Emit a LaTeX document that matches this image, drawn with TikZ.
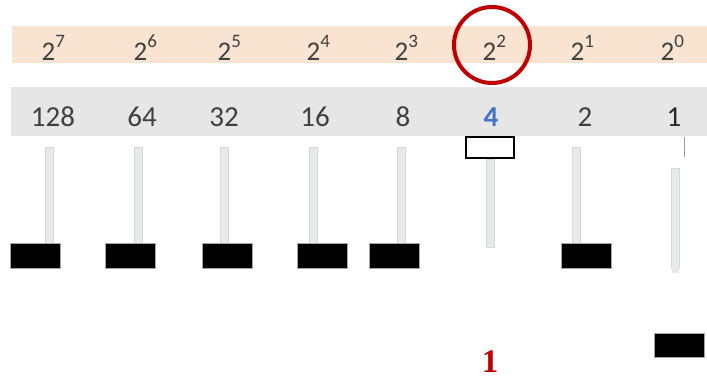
\documentclass[tikz,border=0pt]{standalone}
\usepackage{fontspec}
\setmainfont{Carlito}
\newfontfamily\redserif{Liberation Serif}
\definecolor{peach}{HTML}{F8E4D0}
\definecolor{bandgray}{HTML}{E6E6E6}
\definecolor{txtgray}{HTML}{404040}
\definecolor{bluefour}{HTML}{4472C4}
\definecolor{darkred}{HTML}{C00000}
\definecolor{rodfill}{HTML}{E8EAEA}
\definecolor{roddraw}{HTML}{D6D8D8}
\tikzset{
  powtext/.style={anchor=base west, inner sep=0pt, text=txtgray, font=\fontsize{27}{27}\selectfont},
  numtext/.style={anchor=base, inner sep=0pt, text=txtgray, font=\fontsize{29}{29}\selectfont},
  rod/.style={fill=rodfill, draw=roddraw, line width=0.8pt},
  bead/.style={fill=black, draw=gray!70, line width=0.8pt},
}
\newcommand{\powlbl}[1]{2\raisebox{13pt}{\fontsize{19}{19}\selectfont #1}}
\begin{document}
\begin{tikzpicture}[x=1pt,y=-1pt]
\useasboundingbox (0,0) rectangle (707,377);
% bands
\fill[peach] (12,26) rectangle (707,63);
\fill[bandgray] (11,87) rectangle (707,136);
% power labels
\foreach \x/\e [count=\i] in {48/7,140/6,224/5,313/4,401/3,489/2,577/1,667/0}
  \node[powtext] (p\i) at (\x-6.5,61) {\powlbl{\e}};
% values
\node[numtext] (n1) at (53,127) {128};
\node[numtext] (n2) at (142,127) {64};
\node[numtext] (n3) at (224,127) {32};
\node[numtext] (n4) at (315,127) {16};
\node[numtext] (n5) at (403,127) {8};
\node[numtext, text=bluefour, font=\fontsize{29}{29}\selectfont\bfseries] (n6) at (491,127) {4};
\node[numtext] (n7) at (585,127) {2};
\node[numtext, text=black!85] (n8) at (674,127) {1};
% circle
\draw[darkred, line width=4pt] (492,45) circle (38);
% rods
\foreach \x in {45,134,220,309,397,572}
  \draw[rod] (\x,147) rectangle (\x+8,243);
\draw[rod] (486,159) rectangle (494,247);
\draw[rod] (671,168) rectangle (679,268);
\fill[rodfill] (672,268) rectangle (679,273);
\draw[gray!80, line width=0.8pt] (684,137) -- (684,157);
% beads
\foreach \x in {10,105,202,297,369,561}
  \draw[bead] (\x,243) rectangle (\x+50,268);
\draw[bead] (654,333) rectangle (704,357);
\draw[black, line width=2pt, fill=white] (466,137) rectangle (514,158);
% result
\node[anchor=base, inner sep=0pt, text=darkred, font=\redserif\bfseries\fontsize{33}{33}\selectfont] (res) at (490,372) {1};
\end{tikzpicture}
\end{document}
